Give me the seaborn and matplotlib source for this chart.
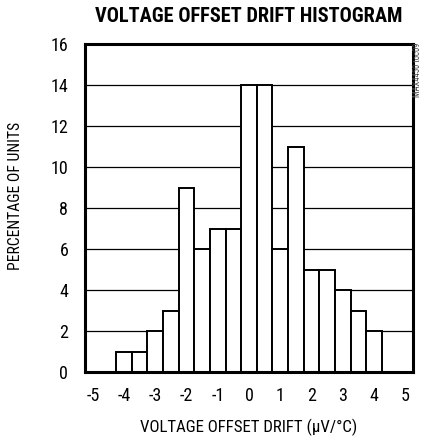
import numpy as np
import pandas as pd
import matplotlib
matplotlib.use("Agg")
import matplotlib.pyplot as plt
from matplotlib import font_manager
import seaborn as sns

# 0.5 µV/°C bins, centred on -4 .. 4
drift = [-4.0, -3.5, -3.0, -2.5, -2.0, -1.5, -1.0, -0.5, 0.0,
         0.5, 1.0, 1.5, 2.0, 2.5, 3.0, 3.5, 4.0]
percent = [1, 1, 2, 3, 9, 6, 7, 7, 14, 14, 6, 11, 5, 5, 4, 3, 2]
xticks = [-5, -4, -3, -2, -1, 0, 1, 2, 3, 4, 5]
yticks = [0, 2, 4, 6, 8, 10, 12, 14, 16]

df = pd.DataFrame({"drift": drift, "percent": percent})

# a narrow family if one is installed
installed = {f.name for f in font_manager.fontManager.ttflist}
prefs = ["Liberation Sans Narrow", "Roboto Condensed", "Open Sans Condensed"]
narrow = [n for n in prefs if n in installed]
if not narrow:
    narrow = sorted(n for n in installed if "Narrow" in n or "Condensed" in n)
family = narrow[0] if narrow else "Roboto"
bold_ok = any(f.name == family and f.weight in (600, 700, 800, 900, "bold")
              for f in font_manager.fontManager.ttflist)

sns.set_style("white")
plt.rcParams["font.family"] = [family, "DejaVu Sans"]
plt.rcParams["axes.unicode_minus"] = False
plt.rcParams["text.color"] = "black"

fig = plt.figure(figsize=(4.22, 4.43), dpi=100)
ax = fig.add_axes([85 / 422, 71 / 443, 328 / 422, 328 / 443])

sns.histplot(data=df, x="drift", weights="percent", binwidth=0.5,
             binrange=(-5.25, 5.25), color="white", edgecolor="black",
             linewidth=1.4, alpha=1, ax=ax, zorder=3)

ax.set_xlim(-5.25, 5.25)
ax.set_ylim(0, 16)
ax.set_xticks(xticks)
ax.set_yticks(yticks)
ax.set_xlabel("")
ax.set_ylabel("")
ax.yaxis.grid(True, color="black", linewidth=0.9)
ax.xaxis.grid(False)
ax.set_axisbelow(True)
ax.tick_params(axis="both", length=0, labelsize=13, colors="black")
ax.tick_params(axis="x", pad=11)
ax.tick_params(axis="y", pad=12)
for s in ax.spines.values():
    s.set_visible(True)
    s.set_color("black")
    s.set_linewidth(2.2)
    s.set_zorder(5)

title = fig.text(249 / 422, 1 - 17 / 443, "VOLTAGE OFFSET DRIFT HISTOGRAM",
                 ha="center", va="center", fontsize=15,
                 fontweight="heavy" if bold_ok else "bold",
                 family=[family if bold_ok else "Roboto", "DejaVu Sans"])
xlab = fig.text(249 / 422, 1 - 427 / 443, "VOLTAGE OFFSET DRIFT (\u00b5V/\u00b0C)",
                ha="center", va="center", fontsize=12)
ylab = fig.text(16 / 422, 1 - 196 / 443, "PERCENTAGE OF UNITS", rotation=90,
                ha="center", va="center", fontsize=12)
tag = fig.text(418 / 422, 1 - 70 / 443, "MAX4450 toc09", rotation=90,
               ha="center", va="center", fontsize=6, color="#444444")

# size the long texts to the extents seen in the reference
fig.canvas.draw()
r = fig.canvas.get_renderer()
for t, w, horiz in [(title, 310, True), (xlab, 218, True),
                    (ylab, 147, False), (tag, 55, False)]:
    bb = t.get_window_extent(r)
    cur = bb.width if horiz else bb.height
    t.set_fontsize(t.get_fontsize() * w / cur)

fig.savefig("out.png", dpi=100, facecolor="white")
